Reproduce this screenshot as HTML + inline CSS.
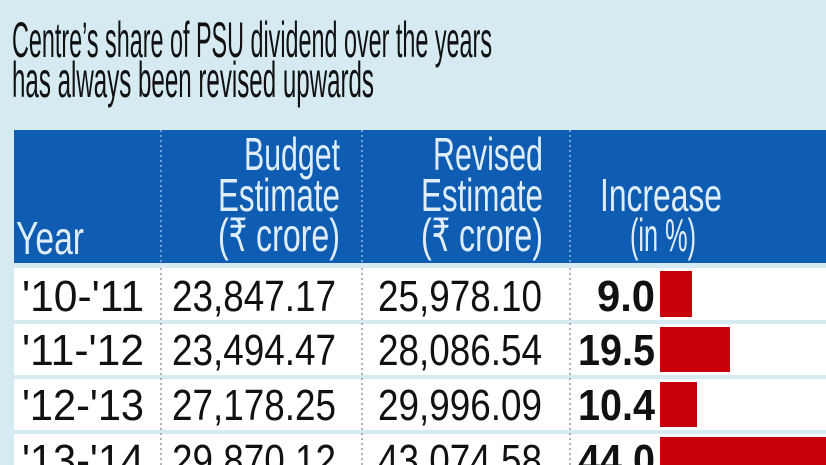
<!DOCTYPE html>
<html><head><meta charset="utf-8"><style>
html,body{margin:0;padding:0;background:#d5ebf1;}
svg{display:block}
text{font-family:"Liberation Sans Narrow","Liberation Sans","DejaVu Sans Condensed",sans-serif;}
</style></head><body>
<svg width="826" height="465" viewBox="0 0 826 465" xmlns="http://www.w3.org/2000/svg">
<rect width="826" height="465" fill="#d5ebf1"/>
<text x="12" y="-16" font-size="60" font-weight="bold" fill="#222" textLength="790" lengthAdjust="spacingAndGlyphs">PSU PAYOUTS</text>
<text x="12" y="57" font-size="50" fill="#111" textLength="480" lengthAdjust="spacingAndGlyphs">Centre’s share of PSU dividend over the years</text>
<text x="12" y="97" font-size="50" fill="#111" textLength="362" lengthAdjust="spacingAndGlyphs">has always been revised upwards</text>
<rect x="14" y="130" width="812" height="133" fill="#0f5db3"/>
<g fill="#dfeefa" font-size="46">
<text x="16" y="254" textLength="68" lengthAdjust="spacingAndGlyphs">Year</text>
<text x="340" y="170" text-anchor="end" textLength="96" lengthAdjust="spacingAndGlyphs">Budget</text>
<text x="340" y="211" text-anchor="end" textLength="122" lengthAdjust="spacingAndGlyphs">Estimate</text>
<text x="340" y="251" text-anchor="end" textLength="122" lengthAdjust="spacingAndGlyphs">(₹ crore)</text>
<text x="543" y="170" text-anchor="end" textLength="110" lengthAdjust="spacingAndGlyphs">Revised</text>
<text x="543" y="211" text-anchor="end" textLength="122" lengthAdjust="spacingAndGlyphs">Estimate</text>
<text x="543" y="251" text-anchor="end" textLength="122" lengthAdjust="spacingAndGlyphs">(₹ crore)</text>
<text x="600" y="211" textLength="122" lengthAdjust="spacingAndGlyphs">Increase</text>
<text x="630" y="251" textLength="66" lengthAdjust="spacingAndGlyphs">(in %)</text>
</g>
<g stroke="#6fa3d8" stroke-width="2" stroke-dasharray="2,3">
<line x1="161" y1="130" x2="161" y2="263"/><line x1="362" y1="130" x2="362" y2="263"/><line x1="570" y1="130" x2="570" y2="263"/>
</g>
<g fill="#fff">
<rect x="14" y="268" width="812" height="52"/>
<rect x="14" y="324" width="812" height="51"/>
<rect x="14" y="379" width="812" height="51"/>
<rect x="14" y="434" width="812" height="31"/>
</g>
<g stroke="#999" stroke-width="1.5" stroke-dasharray="2,3">
<line x1="161" y1="268" x2="161" y2="465"/><line x1="362" y1="268" x2="362" y2="465"/><line x1="570" y1="268" x2="570" y2="465"/>
</g>
<g fill="#c8000a">
<rect x="660" y="271" width="32" height="46"/>
<rect x="660" y="327" width="70" height="45"/>
<rect x="660" y="382" width="37" height="45"/>
<rect x="660" y="437" width="170" height="30"/>
</g>
<g fill="#111" font-size="44">
<text x="22" y="311" textLength="122" lengthAdjust="spacingAndGlyphs">'10-'11</text>
<text x="336" y="311" text-anchor="end" textLength="164" lengthAdjust="spacingAndGlyphs">23,847.17</text>
<text x="542" y="311" text-anchor="end" textLength="164" lengthAdjust="spacingAndGlyphs">25,978.10</text>
<text x="655" y="311" text-anchor="end" font-weight="bold" textLength="58" lengthAdjust="spacingAndGlyphs">9.0</text>
<text x="22" y="365" textLength="122" lengthAdjust="spacingAndGlyphs">'11-'12</text>
<text x="336" y="365" text-anchor="end" textLength="164" lengthAdjust="spacingAndGlyphs">23,494.47</text>
<text x="542" y="365" text-anchor="end" textLength="164" lengthAdjust="spacingAndGlyphs">28,086.54</text>
<text x="655" y="365" text-anchor="end" font-weight="bold" textLength="77" lengthAdjust="spacingAndGlyphs">19.5</text>
<text x="22" y="420" textLength="122" lengthAdjust="spacingAndGlyphs">'12-'13</text>
<text x="336" y="420" text-anchor="end" textLength="164" lengthAdjust="spacingAndGlyphs">27,178.25</text>
<text x="542" y="420" text-anchor="end" textLength="164" lengthAdjust="spacingAndGlyphs">29,996.09</text>
<text x="655" y="420" text-anchor="end" font-weight="bold" textLength="77" lengthAdjust="spacingAndGlyphs">10.4</text>
<text x="22" y="475" textLength="122" lengthAdjust="spacingAndGlyphs">'13-'14</text>
<text x="336" y="475" text-anchor="end" textLength="164" lengthAdjust="spacingAndGlyphs">29,870.12</text>
<text x="542" y="475" text-anchor="end" textLength="164" lengthAdjust="spacingAndGlyphs">43,074.58</text>
<text x="655" y="475" text-anchor="end" font-weight="bold" textLength="77" lengthAdjust="spacingAndGlyphs">44.0</text>
</g>
</svg>
</body></html>
